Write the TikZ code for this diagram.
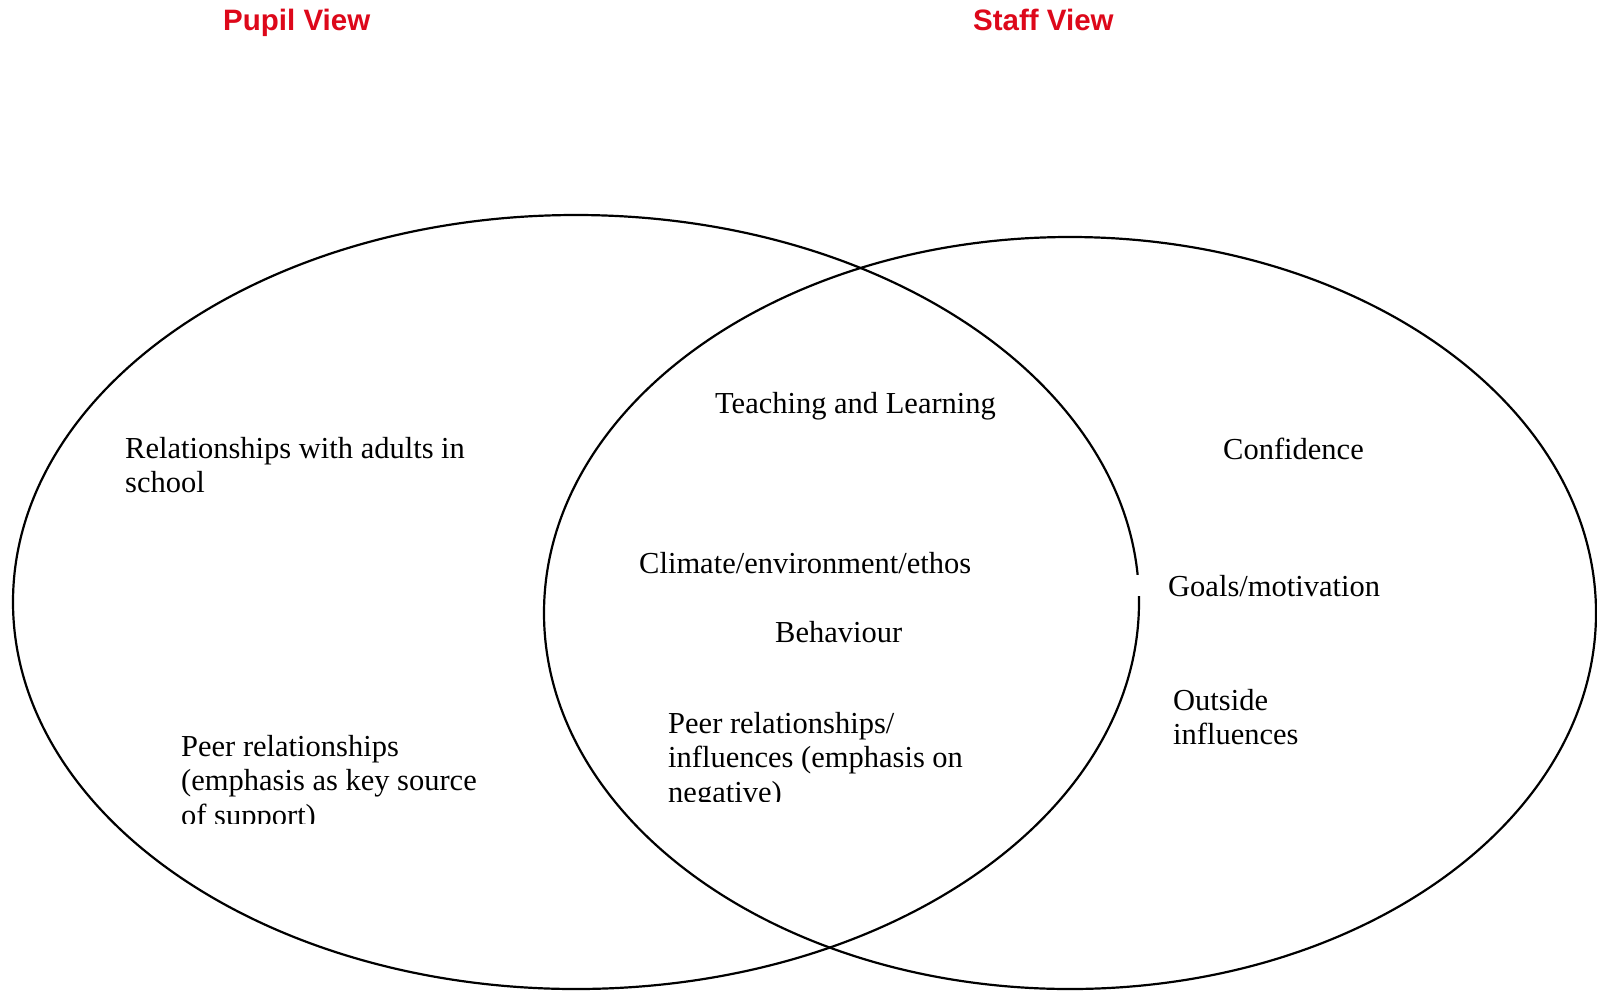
\documentclass[tikz,border=0pt]{standalone}
\usepackage{fontspec}
\setmainfont{Liberation Serif}
\newfontfamily\titlefont{Liberation Sans}
\definecolor{titlered}{RGB}{221,8,26}
\tikzset{
  venn/.style={draw=black, line width=2.2pt},
  title/.style={font=\titlefont\bfseries\fontsize{29.5}{34}\selectfont, text=titlered, inner sep=0pt, anchor=base west},
  lbl/.style={font=\fontsize{30.5}{34.5}\selectfont, inner sep=0pt, anchor=base west, align=left},
}
\begin{document}
\begin{tikzpicture}[x=1pt,y=-1pt]
\useasboundingbox (0,0) rectangle (1597,991);
\fill[white] (0,0) rectangle (1597,991);

% titles
\node[title] (pupil) at (223,30) {Pupil View};
\node[title] (staff) at (973,30) {Staff View};

% circles
\draw[venn] (576,602) ellipse [x radius=563pt, y radius=387pt];
\draw[venn] (1070,613) ellipse [x radius=526pt, y radius=376pt];

% left only (anchor = baseline of last line)
\node[lbl] (adults) at (125,492.5) {Relationships with adults in\\school};
\begin{scope}
  \clip (150,700) rectangle (520,823);
  \node[lbl] (peerL) at (181,825) {Peer relationships\\(emphasis as key source\\of support)};
\end{scope}

% overlap
\node[lbl] (teach) at (715,413) {Teaching and Learning};
\node[lbl] (climate) at (639,573) {Climate/environment/ethos};
\node[lbl] (behav) at (775,642) {Behaviour};
\begin{scope}
  \clip (640,700) rectangle (1000,801.5);
  \node[lbl] (peerM) at (668,802) {Peer relationships/\\influences (emphasis on\\negative)};
\end{scope}

% right only
\node[lbl] (conf) at (1223,459) {Confidence};
\node[lbl, fill=white] (goals) at (1134,596) {\hspace*{34pt}Goals/motivation};
\node[lbl] (outside) at (1173,744.5) {Outside\\influences};
\end{tikzpicture}
\end{document}
